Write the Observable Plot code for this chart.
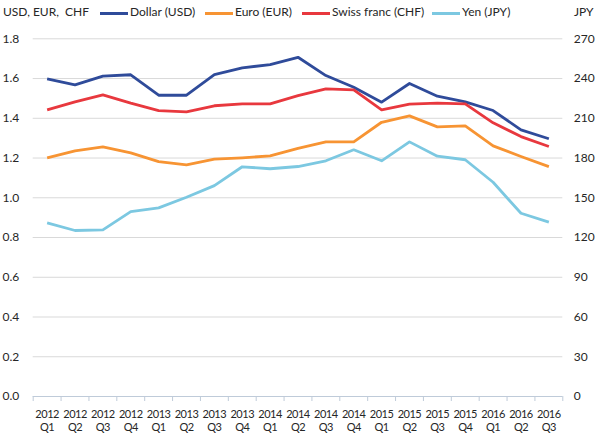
<!DOCTYPE html>
<html>
<head>
<meta charset="utf-8">
<script src="https://cdn.jsdelivr.net/npm/d3@7"></script>
<script src="https://cdn.jsdelivr.net/npm/@observablehq/plot@0.6"></script>
<style>
  html, body { margin: 0; padding: 0; background: #fff; }
  #wrap { position: relative; width: 598px; height: 447px; font-family: Lato, "Open Sans", sans-serif; color: #262626; font-size: 12px; }
  .lab { position: absolute; top: 5px; line-height: 14px; white-space: pre; }
  .sw { position: absolute; top: 12px; width: 28px; height: 3px; }
  g[aria-label="x-axis tick label"] text { letter-spacing: -0.5px; }
</style>
</head>
<body>
<div id="wrap"></div>
<script>
const quarters = ["2012 Q1","2012 Q2","2012 Q3","2012 Q4","2013 Q1","2013 Q2","2013 Q3","2013 Q4","2014 Q1","2014 Q2","2014 Q3","2014 Q4","2015 Q1","2015 Q2","2015 Q3","2015 Q4","2016 Q1","2016 Q2","2016 Q3"];
const usd = [1.598,1.568,1.612,1.619,1.516,1.516,1.620,1.654,1.670,1.707,1.615,1.556,1.481,1.575,1.511,1.483,1.439,1.342,1.297];
const eur = [1.201,1.236,1.256,1.226,1.182,1.166,1.194,1.201,1.211,1.249,1.281,1.281,1.380,1.412,1.357,1.362,1.261,1.208,1.157];
const chf = [1.442,1.483,1.518,1.476,1.439,1.432,1.463,1.473,1.473,1.514,1.548,1.543,1.442,1.471,1.476,1.473,1.377,1.308,1.258];
const jpy = [131.1,125.3,125.8,139.6,142.4,150.4,159.2,173.4,171.9,173.6,177.9,186.2,177.9,192.2,181.4,178.7,161.7,138.3,131.6];
const leftTicks = [0,0.2,0.4,0.6,0.8,1.0,1.2,1.4,1.6,1.8];
const rightTicks = [0,30,60,90,120,150,180,210,240,270];
const jpyRatio = 270 / 1.8;

const series = [
  {name: "Dollar (USD)", values: usd, color: "#2f4b9a", left: 100},
  {name: "Euro (EUR)", values: eur, color: "#f79433", left: 205},
  {name: "Swiss franc (CHF)", values: chf, color: "#e8383e", left: 302},
  {name: "Yen (JPY)", values: jpy.map(v => v / jpyRatio), color: "#7cc8e1", left: 432}
];

const idx = d3.range(quarters.length);
const boundaries = d3.range(quarters.length + 1).map(i => i - 0.5);

const chart = Plot.plot({
  width: 598,
  height: 447,
  marginLeft: 32.7,
  marginRight: 35.7,
  marginTop: 38.3,
  marginBottom: 51,
  style: {fontFamily: 'Lato, "Open Sans", sans-serif', fontSize: "12px", color: "#262626", background: "transparent"},
  x: {domain: [-0.5, quarters.length - 0.5], axis: null},
  y: {domain: [0, 1.8], axis: null},
  marks: [
    Plot.ruleY(leftTicks.filter(d => d > 0), {stroke: "#d9d9d9", strokeWidth: 1}),
    Plot.axisY({ticks: leftTicks, tickFormat: d => d.toFixed(1), tickSize: 0, tickPadding: 14, anchor: "left", label: null, fontSize: 12}),
    Plot.axisY({ticks: rightTicks.map(v => v / jpyRatio), tickFormat: d => String(Math.round(d * jpyRatio)), tickSize: 0, tickPadding: 11, anchor: "right", label: null, textAnchor: "start", fontSize: 12}),
    Plot.ruleY([0], {stroke: "#bfcbd9", strokeWidth: 1}),
    Plot.axisX({ticks: boundaries, tickSize: 5, tickFormat: () => "", stroke: "#bfcbd9", anchor: "bottom", label: null}),
    Plot.axisX({ticks: idx, tickSize: 0, tickPadding: 13, tickFormat: i => quarters[i].replace(" ", "\n"), lineHeight: 1.15, anchor: "bottom", label: null, fontSize: 11}),
    ...series.map(s => Plot.line(idx, {x: i => i, y: i => s.values[i], stroke: s.color, strokeWidth: 2.8, strokeLinejoin: "round", strokeLinecap: "butt"}))
  ]
});

const wrap = document.getElementById("wrap");
wrap.appendChild(chart);
chart.style.position = "absolute";
chart.style.left = "0";
chart.style.top = "0";

function addLabel(text, left) {
  const d = document.createElement("div");
  d.className = "lab";
  d.style.left = left + "px";
  d.textContent = text;
  wrap.appendChild(d);
}
addLabel("USD, EUR,  CHF", 3);
addLabel("JPY", 574);
for (const s of series) {
  const sw = document.createElement("div");
  sw.className = "sw";
  sw.style.left = s.left + "px";
  sw.style.background = s.color;
  wrap.appendChild(sw);
  addLabel(s.name, s.left + 30);
}
</script>
</body>
</html>
